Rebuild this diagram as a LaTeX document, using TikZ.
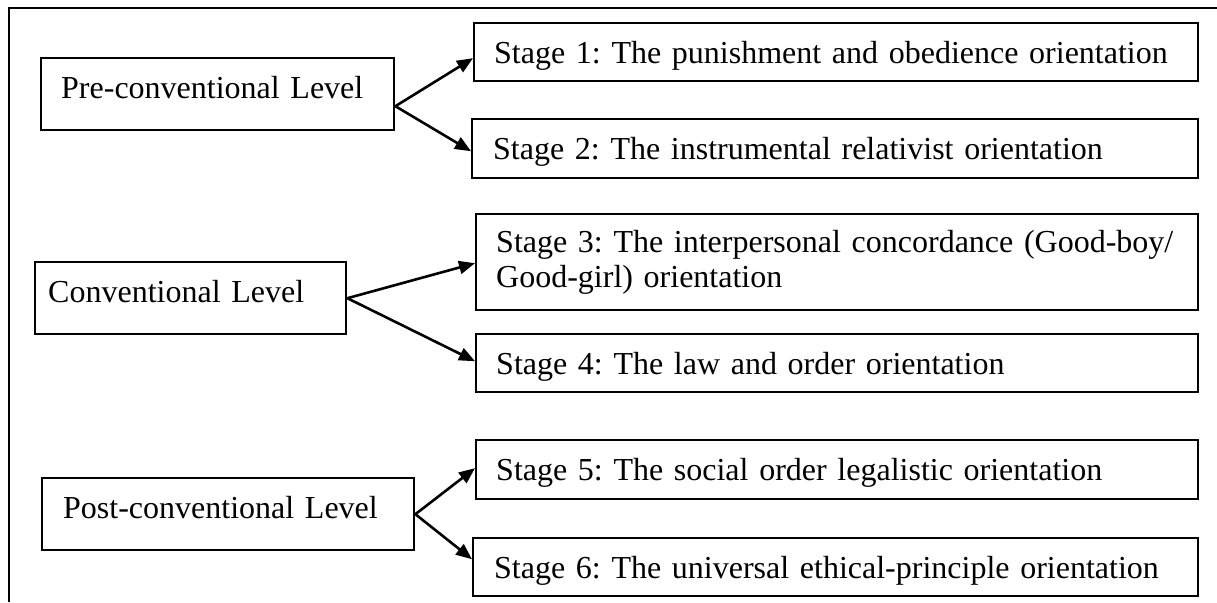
\documentclass[tikz,border=0pt]{standalone}
\usepackage{fontspec}
\setmainfont{Liberation Serif}
\usetikzlibrary{arrows.meta}
\frenchspacing
\tikzset{
  boxbase/.style={draw, line width=2.4pt, anchor=north west, align=left, inner ysep=0pt},
  lvl/.style={boxbase, text height=22pt, text depth=14pt, minimum height=72pt},
  stg/.style={boxbase, text height=29pt, text depth=7pt},
  arr/.style={line width=2.6pt, -{Triangle[length=16pt,width=13pt]}},
  frameline/.style={line width=2.4pt}
}
\begin{document}
\begin{tikzpicture}[x=1pt,y=-1pt,font=\fontsize{32}{35}\selectfont]
\useasboundingbox (0,0) rectangle (1217,602);
\draw[frameline] (9,602) -- (9,8) -- (1217,8);

\node[lvl, inner xsep=20pt, text width=313pt] (pre) at (40,57) {Pre-conventional Level};
\node[lvl, inner xsep=13pt, text width=285pt] (conv) at (34,261) {Conventional Level};
\node[lvl, inner xsep=21pt, text width=330pt] (post) at (41,477) {Post-conventional Level};

\node[stg, inner xsep=20pt, text width=684pt, minimum height=58pt] (s1) at (473,22) {Stage 1: The punishment and obedience orientation};
\node[stg, inner xsep=21pt, text width=684pt, minimum height=59pt] (s2) at (471,118) {Stage 2: The instrumental relativist orientation};
\node[boxbase, inner xsep=20pt, text width=682pt, minimum height=96pt] (s3) at (475,213) {Stage 3: The interpersonal concordance (Good-boy/\\Good-girl) orientation};
\node[stg, inner xsep=20pt, text width=682pt, minimum height=58pt] (s4) at (475,333) {Stage 4: The law and order orientation};
\node[stg, inner xsep=20pt, text width=682pt, minimum height=59pt] (s5) at (475,439) {Stage 5: The social order legalistic orientation};
\node[stg, inner xsep=21pt, text width=683pt, minimum height=58pt] (s6) at (472,537) {Stage 6: The universal ethical-principle orientation};

\draw[arr] ([yshift=-12pt]pre.east) -- ([yshift=-6pt]s1.west);
\draw[arr] ([yshift=-12pt]pre.east) -- ([yshift=-2.5pt]s2.west);
\draw[arr] (conv.east) -- ([yshift=-1pt]s3.west);
\draw[arr] (conv.east) -- ([yshift=2pt]s4.west);
\draw[arr] (post.east) -- ([yshift=1.5pt]s5.west);
\draw[arr] (post.east) -- ([yshift=8pt]s6.west);
\end{tikzpicture}
\end{document}
